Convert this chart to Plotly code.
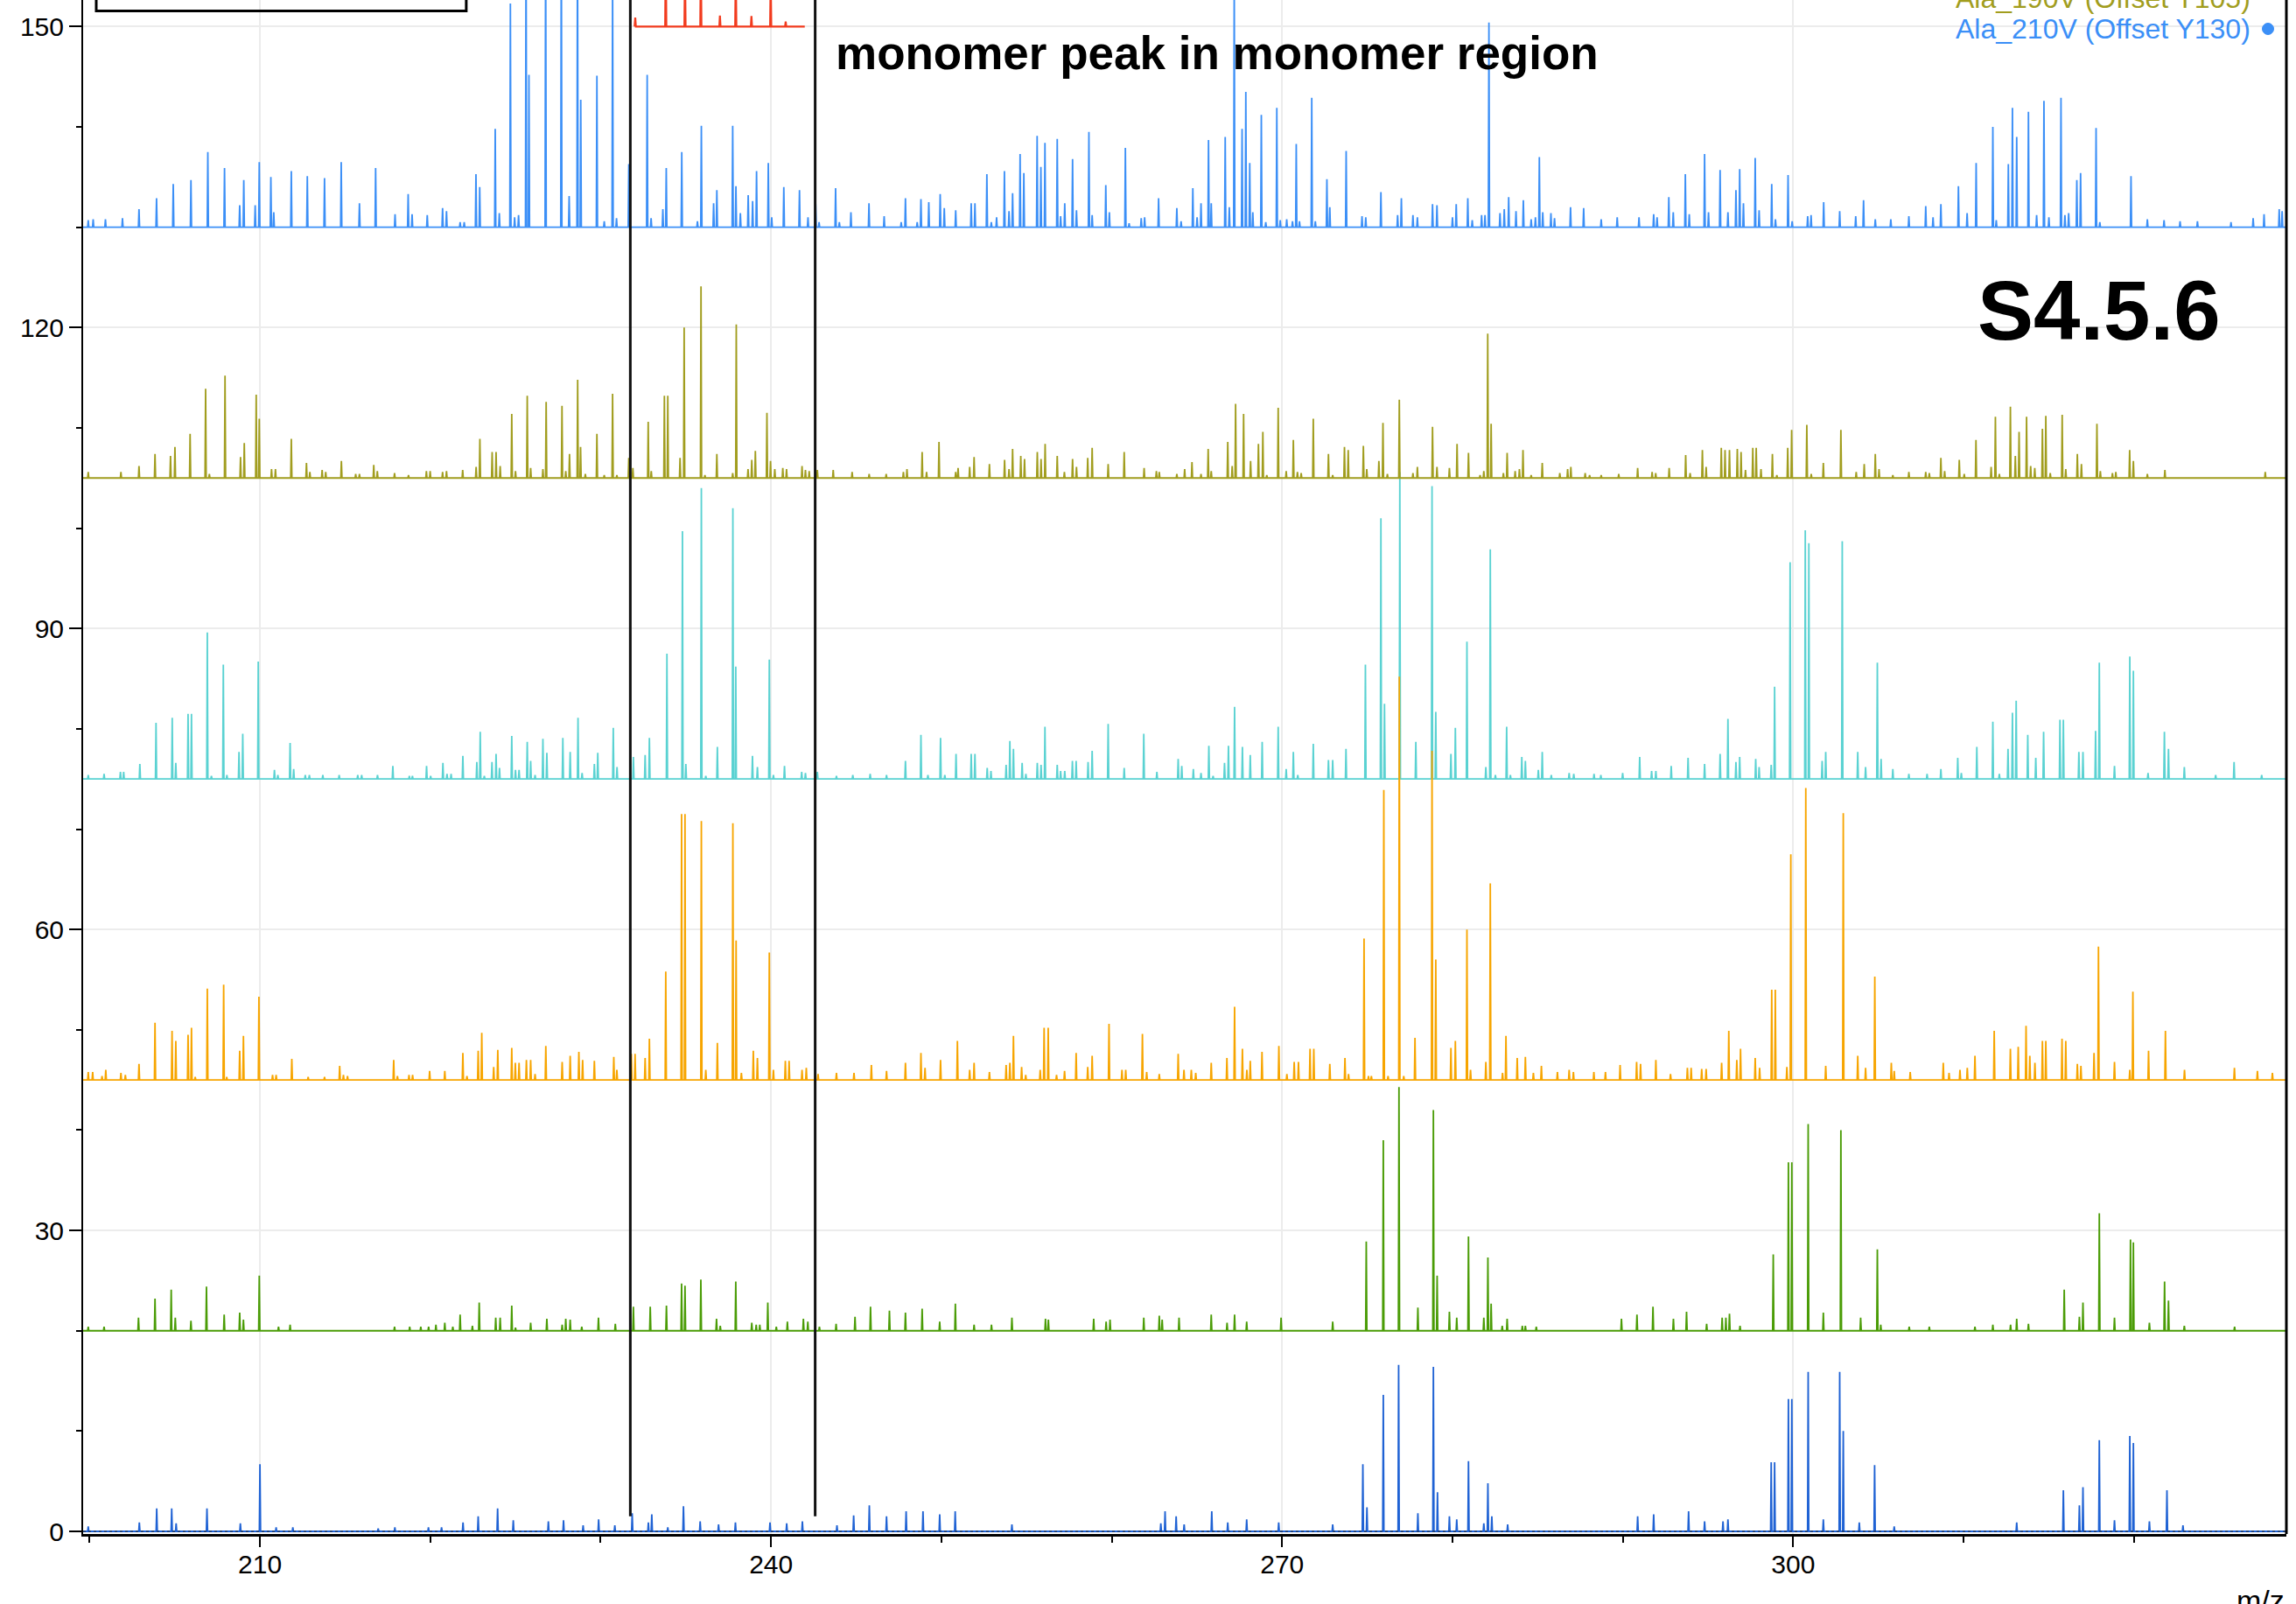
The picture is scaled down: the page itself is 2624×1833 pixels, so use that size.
import plotly.graph_objects as go

# ---- data: peak m/z and height above each trace's offset ----
mz_210v = [199.92, 200.21, 200.93, 201.93, 202.90, 203.93, 204.91, 205.95, 206.94, 207.92, 208.81, 209.05, 209.72,
           209.96, 210.64, 210.81, 211.84, 212.78, 213.79, 214.77, 215.84, 216.79, 217.93, 218.70, 218.93, 219.82,
           220.72, 220.95, 221.75, 221.99, 222.68, 222.90, 223.81, 224.05, 224.70, 224.95, 225.18, 225.62, 225.79,
           226.77, 227.69, 228.15, 228.64, 228.83, 229.78, 230.21, 230.70, 230.93, 231.65, 232.73, 232.96, 233.65,
           233.85, 234.76, 235.68, 235.91, 236.63, 236.82, 237.75, 237.94, 238.20, 238.66, 238.92, 239.15, 239.84,
           240.04, 240.75, 241.67, 242.17, 242.62, 242.82, 243.79, 244.01, 244.69, 245.75, 246.64, 247.64, 247.89,
           248.58, 248.80, 249.26, 249.93, 250.17, 250.84, 251.75, 251.97, 252.67, 252.93, 253.24, 253.70, 253.97,
           254.18, 254.62, 254.84, 255.62, 255.84, 256.08, 256.80, 257.00, 257.24, 257.70, 257.93, 258.66, 258.85,
           259.65, 259.86, 260.80, 261.02, 261.73, 261.93, 262.75, 263.82, 264.07, 264.76, 265.01, 265.24, 265.68,
           265.84, 266.66, 266.90, 267.19, 267.65, 267.87, 268.10, 268.28, 268.78, 269.04, 269.69, 269.89, 270.27,
           270.61, 270.83, 271.02, 271.74, 271.95, 272.63, 272.80, 273.76, 274.69, 274.91, 275.80, 276.78, 277.00,
           277.68, 277.94, 278.83, 279.09, 280.00, 280.22, 280.90, 281.16, 281.71, 281.91, 282.14, 282.79, 283.04,
           283.30, 283.73, 284.16, 284.62, 284.87, 285.10, 285.30, 285.78, 285.99, 286.93, 287.70, 288.73, 289.67,
           290.95, 291.81, 292.01, 292.70, 292.96, 293.67, 293.90, 294.80, 295.03, 295.71, 296.17, 296.64, 296.86,
           297.08, 297.77, 298.00, 298.74, 298.96, 299.70, 299.94, 300.85, 301.05, 301.79, 302.73, 303.67, 304.13,
           304.82, 305.73, 306.79, 307.78, 308.21, 308.67, 309.70, 310.21, 310.74, 311.72, 311.92, 312.63, 312.87,
           313.12, 313.81, 314.29, 314.72, 315.01, 315.72, 315.95, 316.17, 316.65, 316.87, 317.78, 318.00, 319.83,
           320.79, 321.77, 322.71, 323.73, 325.70, 327.00, 327.64, 328.53, 328.70]
int_210v = [0.7, 0.8, 0.8, 0.9, 1.8, 2.9, 4.3, 4.7, 7.5, 5.9, 2.2, 4.7, 2.2,
            6.5, 5.0, 1.5, 5.6, 5.1, 4.9, 6.5, 2.4, 5.9, 1.3, 3.3, 1.3, 1.2,
            1.9, 1.6, 0.5, 0.5, 5.3, 4.0, 9.8, 1.4, 22.3, 1.0, 1.2, 30.0, 15.2,
            30.0, 30.0, 3.1, 30.0, 12.7, 15.1, 0.6, 25.0, 0.9, 6.3, 15.2, 0.9, 1.8,
            5.9, 7.5, 0.6, 10.1, 2.4, 3.7, 10.1, 4.1, 1.4, 3.2, 2.6, 5.6, 6.4,
            1.0, 4.0, 3.7, 1.0, 2.3, 0.5, 3.9, 0.5, 1.5, 2.4, 1.1, 0.5, 2.9,
            0.5, 2.8, 2.5, 3.3, 1.9, 1.7, 2.4, 2.4, 5.3, 0.5, 1.0, 5.6, 1.6,
            3.4, 7.3, 5.4, 9.1, 6.0, 8.4, 8.8, 1.1, 2.4, 6.8, 1.7, 9.5, 1.2,
            4.2, 1.5, 7.9, 0.4, 0.9, 1.0, 2.9, 1.9, 0.6, 3.9, 1.0, 2.4, 8.7,
            2.4, 9.0, 2.0, 25.0, 9.8, 13.5, 6.4, 1.5, 11.2, 0.5, 11.9, 0.7, 0.8,
            0.6, 8.3, 0.6, 12.9, 0.6, 4.8, 2.0, 7.6, 1.1, 1.0, 3.5, 1.2, 2.9,
            1.2, 1.0, 2.3, 2.2, 1.0, 2.3, 2.9, 0.7, 1.2, 1.2, 20.4, 1.4, 1.8,
            3.0, 1.6, 2.7, 0.8, 1.0, 7.0, 1.5, 1.4, 0.9, 2.0, 1.9, 0.8, 1.0,
            1.0, 1.3, 1.0, 3.0, 1.5, 5.3, 1.3, 7.3, 1.5, 5.7, 1.5, 3.7, 5.8,
            2.4, 6.9, 1.7, 4.3, 0.8, 5.2, 0.6, 1.1, 1.2, 2.5, 1.6, 1.1, 2.7,
            0.8, 0.8, 1.1, 2.1, 1.0, 2.3, 4.1, 1.4, 6.4, 10.0, 0.7, 6.3, 11.9,
            9.0, 11.5, 1.2, 12.6, 1.0, 12.9, 1.2, 1.4, 4.7, 5.4, 9.9, 0.5, 5.1,
            0.8, 0.7, 0.6, 0.6, 0.5, 0.9, 1.3, 1.8, 1.6]

mz_190v = [199.92, 201.84, 202.90, 203.84, 204.75, 205.01, 205.90, 206.81, 207.03, 207.95, 208.86, 209.08, 209.78,
           209.96, 210.68, 210.91, 211.84, 212.73, 212.93, 213.65, 213.86, 214.78, 215.62, 215.84, 216.68, 216.89,
           217.90, 218.72, 219.77, 219.99, 220.72, 220.95, 221.90, 222.69, 222.91, 223.63, 223.86, 224.10, 224.78,
           225.00, 225.69, 225.89, 226.61, 226.80, 227.73, 227.95, 228.17, 228.65, 228.82, 229.10, 229.78, 230.21,
           230.70, 230.95, 231.65, 231.89, 232.79, 232.97, 233.74, 233.94, 234.66, 234.90, 235.89, 236.12, 236.82,
           237.75, 237.96, 238.65, 238.87, 239.08, 239.76, 239.97, 240.22, 240.69, 240.91, 241.82, 242.02, 242.24,
           242.72, 243.65, 244.76, 245.76, 246.76, 247.77, 247.98, 248.87, 249.13, 249.86, 250.84, 250.98, 251.66,
           251.92, 252.82, 253.71, 253.97, 254.18, 254.66, 254.88, 255.63, 255.85, 256.09, 256.80, 257.22, 257.70,
           257.93, 258.59, 258.85, 259.79, 260.73, 261.90, 262.62, 262.79, 263.82, 264.28, 264.71, 265.24, 265.66,
           265.84, 266.81, 267.07, 267.27, 267.74, 268.15, 268.61, 268.87, 269.10, 269.77, 270.24, 270.66, 270.90,
           271.12, 271.83, 272.72, 272.97, 273.66, 273.88, 274.77, 274.97, 275.68, 275.92, 276.18, 276.88, 277.68,
           277.94, 278.83, 279.09, 279.82, 280.27, 280.94, 281.62, 281.84, 282.07, 282.27, 282.99, 283.21, 283.68,
           283.93, 284.14, 284.62, 285.27, 286.30, 286.76, 286.95, 287.79, 288.05, 288.73, 289.76, 290.87, 291.72,
           291.93, 292.72, 293.69, 293.95, 294.67, 294.89, 295.78, 296.00, 296.26, 296.72, 296.94, 297.20, 297.63,
           297.83, 298.11, 298.78, 299.04, 299.68, 299.91, 300.80, 301.06, 301.77, 302.80, 303.70, 304.17, 304.82,
           305.04, 305.85, 306.79, 307.78, 307.99, 308.67, 308.89, 309.75, 310.04, 310.73, 311.62, 311.87, 312.10,
           312.75, 313.04, 313.26, 313.70, 313.94, 314.18, 314.63, 314.83, 315.09, 315.79, 316.00, 316.68, 316.92,
           317.83, 318.03, 318.74, 318.94, 319.75, 319.97, 320.79, 321.82, 327.71]
int_190v = [0.6, 0.6, 1.2, 2.4, 2.2, 3.1, 4.4, 8.9, 0.4, 10.2, 2.1, 3.5, 8.3,
            5.9, 0.9, 0.9, 3.9, 1.5, 0.6, 0.8, 0.6, 1.7, 0.4, 0.4, 1.3, 0.7,
            0.5, 0.3, 0.7, 0.7, 0.6, 0.7, 0.8, 1.1, 3.9, 2.6, 2.6, 1.2, 6.4,
            0.7, 8.2, 1.0, 0.9, 7.6, 7.2, 0.7, 2.4, 9.8, 3.1, 0.4, 4.4, 0.3,
            8.4, 0.3, 2.0, 1.0, 5.6, 0.7, 8.2, 8.2, 2.0, 15.0, 19.1, 0.3, 2.4,
            0.5, 15.3, 0.9, 1.8, 2.7, 6.5, 1.7, 0.9, 1.0, 0.9, 1.2, 0.8, 0.7,
            0.8, 0.8, 0.6, 0.4, 0.4, 0.6, 0.9, 2.6, 0.6, 3.6, 0.6, 1.0, 1.1,
            2.1, 1.4, 1.8, 0.9, 2.9, 2.2, 1.9, 2.6, 1.9, 3.4, 2.2, 0.6, 1.9,
            1.1, 2.0, 3.0, 1.4, 2.6, 1.0, 0.7, 0.6, 0.4, 0.9, 1.6, 0.4, 2.9,
            0.7, 3.6, 1.2, 7.4, 6.4, 1.7, 3.4, 4.6, 0.3, 7.0, 0.7, 3.8, 0.6,
            0.5, 5.9, 2.4, 0.3, 3.1, 2.8, 3.2, 0.9, 1.7, 5.5, 0.4, 7.8, 0.5,
            1.1, 5.1, 1.1, 1.0, 3.4, 2.5, 0.3, 0.7, 14.4, 5.4, 0.5, 2.5, 0.7,
            0.9, 2.8, 0.3, 1.5, 0.5, 0.9, 1.1, 0.5, 0.3, 0.3, 0.4, 1.0, 0.6,
            0.5, 1.0, 2.3, 0.5, 2.8, 1.1, 3.0, 2.8, 2.8, 2.9, 2.6, 0.8, 3.0,
            3.0, 0.9, 2.4, 0.3, 3.0, 4.8, 5.3, 0.4, 1.5, 4.8, 0.6, 1.4, 2.4,
            0.9, 0.3, 0.6, 0.6, 0.5, 2.0, 0.7, 1.8, 0.4, 3.8, 1.1, 6.1, 0.4,
            7.1, 2.2, 4.6, 6.1, 1.2, 1.0, 4.9, 6.2, 0.5, 6.3, 0.9, 2.4, 1.4,
            5.4, 0.7, 0.5, 0.6, 2.8, 1.7, 0.4, 0.8, 0.6]

mz_off75 = [199.92, 200.85, 201.81, 202.00, 202.95, 203.90, 204.85, 205.06, 205.78, 205.98, 206.91, 207.15, 207.85,
            208.06, 208.77, 208.99, 209.90, 210.85, 211.05, 211.77, 211.98, 212.66, 212.90, 213.69, 214.65, 215.74,
            215.97, 216.90, 217.80, 218.77, 218.95, 219.78, 220.02, 220.74, 220.98, 221.22, 221.91, 222.73, 222.93,
            223.17, 223.62, 223.86, 224.06, 224.78, 225.00, 225.21, 225.69, 225.89, 226.15, 226.61, 226.84, 227.78,
            228.21, 228.67, 228.91, 229.63, 229.83, 230.74, 230.96, 231.92, 232.61, 232.86, 233.89, 234.80, 235.00,
            235.91, 236.17, 236.85, 237.76, 237.93, 238.91, 239.20, 239.90, 240.14, 240.79, 241.80, 242.02, 242.72,
            243.84, 244.80, 245.82, 246.78, 247.89, 248.80, 249.21, 249.95, 250.20, 250.86, 251.75, 251.97, 252.69,
            252.91, 253.80, 254.02, 254.23, 254.74, 254.96, 255.63, 255.85, 256.08, 256.80, 257.00, 257.24, 257.69,
            257.91, 258.61, 258.85, 259.79, 260.73, 261.88, 262.65, 263.90, 264.11, 264.79, 265.24, 265.70, 265.95,
            266.62, 266.85, 267.21, 267.67, 268.13, 268.83, 269.77, 270.24, 270.66, 270.92, 271.83, 272.72, 272.97,
            273.75, 274.89, 275.80, 276.01, 276.91, 277.85, 278.80, 279.02, 279.91, 280.17, 280.85, 281.96, 282.22,
            282.52, 283.18, 283.40, 284.07, 284.28, 285.04, 285.27, 285.80, 286.85, 287.12, 288.31, 288.71, 289.99,
            290.99, 291.69, 291.94, 292.84, 293.83, 294.80, 295.71, 296.17, 296.64, 296.86, 297.80, 298.00, 298.71,
            298.91, 299.82, 300.71, 300.92, 301.70, 301.91, 302.88, 303.79, 304.25, 304.94, 305.16, 305.85, 306.79,
            307.86, 308.67, 309.66, 309.87, 310.78, 311.72, 312.10, 312.61, 312.87, 313.09, 313.77, 314.24, 314.70,
            315.66, 315.86, 316.77, 317.01, 317.75, 317.97, 318.86, 319.76, 319.97, 320.83, 321.79, 322.03, 322.96,
            324.80, 325.88, 327.50]
int_off75 = [0.4, 0.5, 0.7, 0.7, 1.5, 5.6, 6.1, 1.6, 6.5, 6.5, 14.6, 0.3, 11.4,
             0.4, 2.7, 4.5, 11.7, 0.9, 0.4, 3.6, 1.0, 0.4, 0.4, 0.4, 0.4, 0.4,
             0.4, 0.4, 1.3, 0.3, 0.3, 1.3, 0.3, 1.6, 0.5, 0.5, 2.3, 1.7, 4.7,
             0.3, 1.7, 2.5, 1.1, 4.3, 0.9, 0.9, 3.7, 1.8, 0.4, 4.0, 2.6, 4.1,
             2.7, 6.1, 0.6, 1.5, 2.6, 5.1, 1.2, 2.2, 2.4, 4.1, 12.5, 24.7, 1.5,
             29.0, 0.3, 3.2, 27.0, 11.2, 2.3, 1.2, 11.9, 0.4, 1.3, 0.7, 0.6, 0.7,
             0.3, 0.4, 0.5, 0.4, 1.8, 4.4, 0.4, 4.1, 0.4, 2.5, 2.5, 2.5, 1.1,
             0.8, 1.4, 3.8, 3.0, 1.6, 0.5, 1.6, 1.4, 5.2, 1.4, 0.8, 0.8, 1.8,
             1.8, 1.7, 2.8, 5.5, 1.1, 4.5, 0.7, 2.0, 1.3, 1.0, 0.6, 3.3, 0.3,
             1.6, 3.3, 7.2, 3.2, 2.4, 3.7, 5.2, 1.0, 2.7, 0.4, 3.5, 1.9, 1.9,
             3.0, 11.4, 26.0, 7.5, 30.6, 3.7, 29.2, 6.7, 2.5, 5.1, 13.7, 1.2, 22.9,
             0.4, 5.2, 0.4, 2.2, 1.8, 0.9, 2.7, 0.4, 0.6, 0.5, 0.5, 0.4, 0.6,
             2.2, 0.8, 0.8, 1.3, 2.1, 1.5, 2.5, 6.0, 1.7, 2.2, 2.0, 1.2, 1.4,
             9.2, 21.6, 24.8, 23.5, 1.8, 2.7, 23.7, 2.7, 1.2, 11.6, 2.0, 1.0, 0.5,
             0.5, 1.0, 2.1, 0.6, 3.2, 5.7, 0.5, 3.0, 6.6, 7.8, 4.4, 2.1, 4.7,
             5.9, 5.9, 2.7, 2.7, 4.8, 11.6, 1.3, 12.2, 10.8, 0.6, 4.7, 3.0, 1.2,
             0.4, 1.7, 0.4]

mz_off45 = [199.92, 200.18, 200.73, 200.95, 201.84, 202.10, 202.90, 203.84, 204.84, 205.06, 205.78, 205.98, 206.20,
            206.91, 207.87, 208.05, 208.81, 209.03, 209.94, 210.74, 210.95, 211.87, 212.83, 213.79, 214.68, 214.90,
            215.14, 217.85, 218.07, 218.75, 218.96, 219.96, 220.85, 221.91, 222.15, 222.81, 223.02, 223.72, 223.96,
            224.78, 224.99, 225.21, 225.64, 225.89, 226.15, 226.78, 227.74, 228.21, 228.72, 228.94, 229.63, 230.77,
            230.95, 231.80, 232.02, 232.61, 232.86, 233.82, 234.75, 234.95, 235.91, 236.17, 236.85, 237.76, 237.95,
            238.26, 238.96, 239.20, 239.90, 240.14, 240.84, 241.06, 241.82, 242.07, 242.76, 243.84, 244.87, 245.89,
            246.78, 247.89, 248.80, 249.04, 249.95, 250.94, 251.66, 251.92, 252.82, 253.80, 254.02, 254.23, 254.71,
            254.95, 255.80, 256.03, 256.27, 256.76, 257.23, 257.91, 258.59, 258.85, 259.84, 260.60, 260.82, 261.80,
            262.05, 262.79, 263.90, 264.24, 264.67, 264.93, 265.84, 266.76, 267.21, 267.67, 267.93, 268.13, 268.82,
            269.81, 270.28, 270.71, 270.96, 271.64, 271.86, 272.80, 273.69, 273.90, 274.81, 275.07, 275.24, 275.97,
            276.22, 276.88, 277.14, 277.80, 278.80, 279.02, 279.91, 280.17, 280.85, 281.06, 281.96, 282.22, 282.94,
            283.14, 283.80, 284.28, 284.75, 285.22, 286.16, 286.85, 287.10, 288.30, 288.98, 289.84, 290.81, 291.04,
            291.94, 292.80, 293.79, 294.01, 294.63, 294.89, 295.80, 296.22, 296.69, 296.91, 297.77, 298.03, 298.74,
            298.95, 299.63, 299.86, 300.74, 301.91, 302.94, 303.79, 304.25, 304.79, 305.76, 305.93, 306.87, 308.81,
            309.15, 309.79, 310.22, 310.67, 311.80, 312.75, 313.21, 313.67, 313.89, 314.19, 314.63, 314.83, 315.78,
            316.00, 316.68, 316.89, 317.66, 317.92, 318.86, 319.76, 319.94, 320.86, 321.85, 322.97, 325.90, 327.25,
            328.13]
int_off45 = [0.8, 0.8, 0.4, 1.0, 0.7, 0.5, 1.6, 5.7, 4.9, 3.9, 4.5, 5.2, 0.3,
             9.1, 9.5, 0.3, 2.9, 4.4, 8.3, 0.5, 0.5, 2.1, 0.3, 0.3, 1.4, 0.5,
             0.4, 2.0, 0.4, 0.5, 0.5, 0.9, 0.9, 2.7, 0.4, 2.9, 4.7, 1.3, 3.0,
             3.2, 1.7, 1.7, 2.0, 2.0, 0.6, 3.4, 1.8, 2.4, 2.8, 2.0, 1.9, 2.3,
             1.0, 2.6, 2.6, 2.2, 4.1, 10.8, 26.5, 26.5, 25.8, 1.0, 3.7, 25.6, 13.9,
             0.7, 2.9, 2.2, 12.7, 1.0, 1.9, 1.9, 1.0, 1.2, 0.6, 0.7, 0.7, 1.5,
             0.9, 1.7, 2.7, 1.2, 2.0, 3.9, 1.0, 1.7, 0.8, 1.5, 1.7, 4.4, 1.3,
             0.5, 1.0, 5.2, 5.2, 0.5, 0.9, 2.7, 1.3, 2.4, 5.6, 1.0, 1.0, 4.6,
             0.8, 0.6, 2.6, 1.0, 1.0, 0.7, 1.7, 2.2, 7.3, 3.1, 1.0, 1.9, 2.8,
             3.4, 0.6, 1.8, 1.8, 3.1, 3.1, 1.6, 2.2, 0.6, 14.1, 0.4, 0.4, 28.9,
             0.4, 40.2, 0.4, 4.2, 32.8, 12.0, 3.2, 3.9, 15.0, 1.0, 1.8, 19.6, 0.7,
             4.4, 2.2, 2.3, 0.7, 1.4, 0.8, 1.0, 0.8, 0.8, 0.8, 1.5, 1.8, 1.6,
             2.0, 0.6, 1.2, 1.2, 1.1, 1.1, 1.7, 4.9, 2.0, 3.1, 2.2, 1.2, 9.0,
             9.0, 1.3, 22.5, 29.1, 1.4, 26.6, 2.4, 1.2, 10.3, 1.7, 0.9, 0.8, 1.7,
             0.7, 1.0, 1.2, 2.4, 4.9, 3.1, 3.3, 5.4, 2.4, 1.7, 3.9, 3.9, 4.1,
             3.9, 1.6, 1.4, 2.7, 13.3, 1.8, 1.0, 8.8, 2.9, 4.9, 1.0, 1.2, 0.9,
             0.7]

mz_off20 = [199.92, 200.85, 202.87, 203.84, 204.79, 205.03, 205.95, 206.86, 207.90, 208.81, 209.03, 209.96, 211.09,
            211.77, 217.90, 218.79, 219.44, 219.90, 220.33, 220.85, 221.32, 221.75, 222.47, 222.87, 223.84, 224.10,
            224.78, 225.00, 225.89, 226.84, 227.74, 227.95, 228.21, 228.89, 229.87, 230.86, 231.92, 232.91, 233.86,
            234.75, 234.95, 235.88, 236.80, 237.02, 237.93, 238.87, 239.13, 239.34, 239.81, 240.31, 240.96, 241.90,
            242.16, 242.84, 243.82, 244.93, 245.84, 246.95, 247.89, 248.87, 249.90, 250.82, 251.92, 252.94, 254.14,
            256.11, 256.28, 258.94, 259.67, 259.90, 261.88, 262.79, 262.96, 263.95, 265.84, 266.77, 267.21, 267.92,
            269.94, 272.97, 274.94, 275.94, 276.86, 277.97, 278.88, 279.10, 279.82, 280.25, 280.94, 281.84, 282.08,
            282.27, 282.92, 283.21, 284.10, 284.28, 284.92, 289.92, 290.83, 291.77, 292.97, 293.74, 294.92, 295.83,
            296.05, 296.26, 296.88, 298.83, 299.72, 299.92, 300.88, 301.77, 302.80, 303.96, 304.94, 305.14, 306.81,
            307.99, 310.67, 311.72, 312.76, 313.12, 313.81, 315.91, 316.80, 317.01, 317.97, 318.86, 319.80, 319.97,
            320.91, 321.80, 322.03, 322.96, 325.91]
int_off20 = [0.4, 0.4, 1.3, 3.2, 4.1, 1.3, 1.0, 4.4, 1.6, 1.8, 1.1, 5.5, 0.4,
             0.6, 0.4, 0.4, 0.4, 0.4, 0.6, 0.8, 0.4, 1.6, 0.5, 2.8, 1.3, 1.3,
             2.5, 0.3, 0.8, 1.2, 0.6, 1.2, 1.1, 0.4, 1.3, 0.7, 2.4, 2.4, 2.5,
             4.7, 4.5, 5.1, 1.2, 0.5, 4.9, 0.8, 0.6, 0.6, 2.8, 0.4, 0.9, 1.2,
             0.9, 0.4, 0.7, 1.4, 2.4, 2.0, 1.8, 2.2, 0.9, 2.7, 0.6, 0.6, 1.3,
             1.2, 1.1, 1.2, 0.9, 1.1, 1.3, 1.5, 1.1, 1.3, 1.6, 0.8, 1.6, 0.9,
             1.3, 0.9, 8.9, 19.0, 24.3, 2.3, 22.0, 5.5, 1.9, 1.3, 9.4, 1.3, 7.3,
             2.7, 0.5, 1.2, 0.5, 0.5, 0.4, 1.2, 1.6, 2.4, 1.2, 1.9, 0.7, 1.3,
             1.3, 1.7, 0.5, 7.6, 16.8, 16.8, 20.6, 1.8, 20.0, 1.3, 8.1, 0.6, 0.4,
             0.4, 0.4, 0.6, 0.6, 1.2, 0.7, 4.1, 1.4, 2.8, 11.7, 1.3, 9.1, 8.8,
             0.8, 4.9, 3.0, 0.5, 0.4]

mz_off0 = [199.92, 202.92, 203.94, 204.82, 205.08, 206.89, 208.85, 210.00, 210.95, 211.93, 216.94, 217.92, 219.89,
           220.66, 221.92, 222.81, 223.95, 224.87, 226.93, 227.82, 228.97, 229.88, 230.83, 231.85, 232.80, 233.00,
           233.94, 234.86, 235.84, 236.92, 237.91, 239.94, 240.92, 241.84, 243.87, 244.85, 245.77, 246.78, 247.93,
           248.92, 249.90, 250.81, 254.14, 262.88, 263.13, 263.78, 264.25, 265.87, 266.81, 267.92, 269.80, 272.97,
           274.74, 274.98, 275.94, 276.84, 277.97, 278.88, 279.12, 279.82, 280.25, 280.94, 281.84, 282.08, 282.31,
           283.24, 290.87, 291.81, 293.86, 294.80, 295.88, 296.17, 298.71, 298.91, 299.72, 299.92, 300.88, 301.77,
           302.73, 302.94, 303.88, 304.78, 305.93, 313.12, 315.86, 316.80, 317.01, 317.97, 318.86, 319.76, 319.97,
           320.91, 321.94, 322.88]
int_off0 = [0.5, 0.9, 2.3, 2.3, 0.8, 2.3, 0.8, 6.7, 0.4, 0.4, 0.3, 0.4, 0.4,
            0.4, 0.9, 1.5, 2.3, 1.1, 1.0, 1.1, 0.6, 1.2, 0.6, 1.8, 0.9, 1.7,
            0.4, 2.5, 1.0, 0.7, 0.9, 0.9, 0.8, 1.0, 0.6, 1.6, 2.6, 1.5, 2.0,
            2.0, 1.7, 2.0, 0.7, 0.8, 2.0, 1.5, 0.7, 2.0, 0.9, 1.2, 0.9, 0.7,
            6.7, 2.4, 13.6, 16.6, 1.8, 16.4, 3.9, 1.5, 1.2, 7.0, 0.8, 4.8, 1.5,
            0.7, 1.5, 1.7, 2.0, 1.0, 1.0, 1.2, 6.9, 6.9, 13.2, 13.2, 15.9, 1.2,
            15.9, 10.0, 0.9, 6.6, 0.5, 0.9, 4.1, 2.6, 4.4, 9.1, 1.1, 9.5, 8.8,
            1.0, 4.1, 0.6]

# reference monomer pattern drawn at the top (offset 150), only over its own window
mz_ref = [232.03, 233.82, 234.95, 235.88, 237.00, 237.93, 238.85, 239.98, 240.86]
int_ref = [0.9, 8.0, 6.0, 7.0, 1.1, 6.0, 1.05, 5.0, 0.5]
ref_window = [231.99, 241.98]

offsets = [0, 20, 45, 75, 105, 130]
region_lines = [231.74, 242.59]

X_RANGE = [199.62, 328.95]
Y_RANGE = [-0.26, 152.65]
HALF = 0.035


def stick_trace(mz, inten, offset, x0, x1):
    """Spectrum as one line: flat baseline with a narrow spike per peak."""
    pairs = sorted(zip(mz, inten))
    xs, ys = [x0], [offset]
    for m, h in pairs:
        xs += [m - HALF, m, m + HALF]
        ys += [offset, offset + h, offset]
    xs.append(x1)
    ys.append(offset)
    return xs, ys


series = [
    (mz_off0, int_off0, offsets[0], "#1f62d4"),
    (mz_off20, int_off20, offsets[1], "#4a9c06"),
    (mz_off75, int_off75, offsets[3], "#5ad2d2"),
    (mz_off45, int_off45, offsets[2], "#f7a500"),
    (mz_190v, int_190v, offsets[4], "#a19d1e"),
    (mz_210v, int_210v, offsets[5], "#3b8ff7"),
]

fig = go.Figure()
for mz, inten, off, col in series:
    xs, ys = stick_trace(mz, inten, off, X_RANGE[0], X_RANGE[1])
    fig.add_trace(go.Scatter(x=xs, y=ys, mode="lines", line=dict(color=col, width=1.8),
                             showlegend=False, hoverinfo="skip"))

xs, ys = stick_trace(mz_ref, int_ref, 150, ref_window[0], ref_window[1])
fig.add_trace(go.Scatter(x=xs, y=ys, mode="lines", line=dict(color="#f23b1e", width=2.2),
                         showlegend=False, hoverinfo="skip"))

# region markers
for xv in region_lines:
    fig.add_shape(type="line", x0=xv, x1=xv, y0=1.5, y1=175, xref="x", yref="y",
                  line=dict(color="#111111", width=3))

# dotted zero line, right frame, cut-off box at top left
fig.add_shape(type="line", x0=X_RANGE[0], x1=X_RANGE[1], y0=0, y1=0, xref="x", yref="y",
              line=dict(color="#222222", width=1.2, dash="dot"))
fig.add_shape(type="line", x0=1, x1=1, y0=0, y1=1, xref="paper", yref="paper",
              line=dict(color="black", width=3))
fig.add_shape(type="rect", x0=200.39, x1=222.11, y0=151.57, y1=175, xref="x", yref="y",
              line=dict(color="black", width=3))

font_fam = "Liberation Sans, Arial, sans-serif"

fig.add_annotation(x=243.68, y=147.4, xref="x", yref="y", xanchor="left", yanchor="middle",
                   text="<b>monomer peak in monomer region</b>", showarrow=False,
                   font=dict(family=font_fam, size=53, color="black"))
fig.add_annotation(x=317.98, y=121.7, xref="x", yref="y", xanchor="center", yanchor="middle",
                   text="<b>S4.5.6</b>", showarrow=False,
                   font=dict(family=font_fam, size=96, color="black"))

# legend entries (text with the dot on the right)
fig.add_annotation(x=0.9845, y=1.00114, xref="paper", yref="paper", xanchor="right", yanchor="middle",
                   text="Ala_190V (Offset Y105)", showarrow=False,
                   font=dict(family=font_fam, size=32, color="#a19d1e"))
fig.add_annotation(x=0.9845, y=0.98118, xref="paper", yref="paper", xanchor="right", yanchor="middle",
                   text="Ala_210V (Offset Y130)", showarrow=False,
                   font=dict(family=font_fam, size=32, color="#3b8ff7"))
fig.add_shape(type="circle", xref="paper", yref="paper", xsizemode="pixel", ysizemode="pixel",
              xanchor=0.99166, yanchor=0.98118, x0=-6.5, x1=6.5, y0=-6.5, y1=6.5,
              fillcolor="#3b8ff7", line=dict(color="#3b8ff7", width=1))

fig.add_annotation(x=1, y=-0.0314, xref="paper", yref="paper", xanchor="right", yanchor="top",
                   text="m/z", showarrow=False, font=dict(family=font_fam, size=34, color="black"))

fig.update_layout(
    width=2624, height=1833,
    margin=dict(l=95, r=11, t=0, b=80),
    plot_bgcolor="white", paper_bgcolor="white",
    font=dict(family=font_fam, size=30, color="black"),
    xaxis=dict(range=X_RANGE, tick0=210, dtick=30, ticks="outside", ticklen=12, tickwidth=2,
               tickcolor="black", showline=True, linecolor="black", linewidth=3,
               showgrid=True, gridcolor="#ececec", gridwidth=2, zeroline=False,
               tickfont=dict(size=30), automargin=False, ticklabelstandoff=-6,
               minor=dict(tick0=200, dtick=10, ticks="outside", ticklen=7, tickwidth=2,
                          tickcolor="black", showgrid=False)),
    yaxis=dict(range=Y_RANGE, tick0=0, dtick=30, ticks="outside", ticklen=14, tickwidth=2,
               tickcolor="black", showline=True, linecolor="black", linewidth=2,
               showgrid=True, gridcolor="#ececec", gridwidth=2, zeroline=False,
               tickfont=dict(size=30), automargin=False,
               minor=dict(tick0=0, dtick=10, ticks="outside", ticklen=6, tickwidth=2,
                          tickcolor="black", showgrid=False)),
)

# the page's default body margin would push the whole figure 8px right and down
fig.write_html("out.html", config={"displayModeBar": False},
               post_script="document.body.style.margin='0px';")
